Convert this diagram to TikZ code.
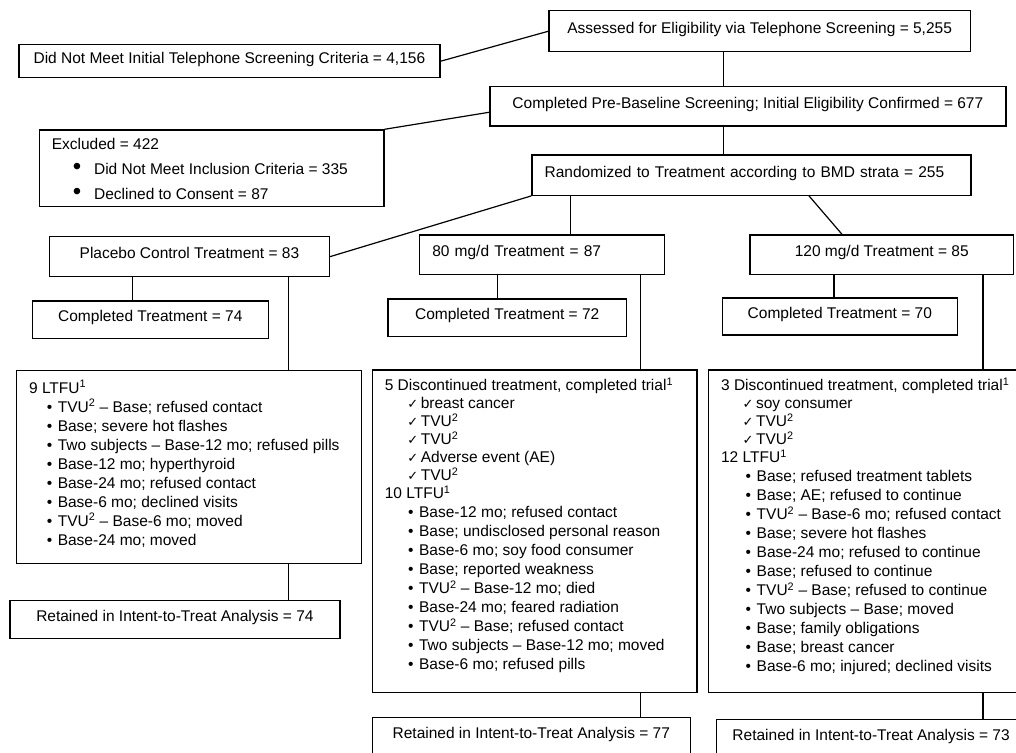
\documentclass[tikz,border=0pt]{standalone}
\usepackage{fontspec}
\setmainfont{Liberation Sans}
\newfontfamily\dejavu{DejaVu Sans}
\tikzset{
  box/.style={draw, line width=1.2pt, inner sep=0pt, anchor=north west, text height=12pt, text depth=8pt},
  listbox/.style={draw, line width=1.2pt, inner sep=0pt, anchor=north west},
  link/.style={line width=1.2pt},
}
% bullet and check mark items: #1=indent
\newcommand{\bitem}[1]{\hspace*{#1pt}\makebox[11pt][l]{•}}
\newcommand{\citem}[1]{\hspace*{#1pt}\makebox[13.5pt][l]{{\dejavu\fontsize{13}{13}\selectfont ✓}}}
\newcommand{\listbox}[7]{%
  % #1=name, #2=x, #3=y, #4=width, #5=height, #6=top gap, #7=lines
  \node[listbox] (#1) at (#2,#3) {\parbox[t][#5pt][t]{#4pt}{\leftskip=12.5pt\vspace*{#6pt}\strut#7}};
}

\begin{document}
\begin{tikzpicture}[x=1pt, y=-1pt, font=\fontsize{15.5}{19}\selectfont]
\useasboundingbox (0,0) rectangle (1016,752);
\clip (0,0) rectangle (1016,752);

% Screening
\node[box, minimum width=421.4pt, minimum height=40.7pt] (assess) at (548.3,10.3)
  {Assessed for Eligibility via Telephone Screening = 5,255};
\node[box, minimum width=421pt, minimum height=32.7pt] (dnm) at (18.3,44.3)
  {Did Not Meet Initial Telephone Screening Criteria = 4,156};
\node[box, minimum width=516pt, minimum height=39.3pt] (pre) at (489.3,86)
  {Completed Pre-Baseline Screening; Initial Eligibility Confirmed = 677};
\listbox{excl}{38.7}{129.3}{344.6}{76.7}{6.2}{%
  Excluded = 422\\[6pt]
  \hspace*{21pt}\makebox[21.3pt][l]{\fontsize{24}{19}\selectfont •}Did Not Meet Inclusion Criteria = 335\\[6pt]
  \hspace*{21pt}\makebox[21.3pt][l]{\fontsize{24}{19}\selectfont •}Declined to Consent = 87}
\node[box, minimum width=439pt, minimum height=40.4pt, text width=413.6pt, align=left] (rand) at (531.3,154.3)
  {Randomized to Treatment according to BMD strata = 255};

% Treatment arms
\node[box, minimum width=280.3pt, minimum height=40pt] (plac) at (48.7,236)
  {Placebo Control Treatment = 83};
\node[box, minimum width=245pt, minimum height=39.7pt, text width=219.6pt, align=left] (mg80) at (419,234.3)
  {80 mg/d Treatment = 87};
\node[box, minimum width=263.7pt, minimum height=39.7pt] (mg120) at (749.3,234.3)
  {120 mg/d Treatment = 85};

% Completed treatment
\node[box, minimum width=236pt, minimum height=37.4pt] (comp74) at (31.7,300.3)
  {Completed Treatment = 74};
\node[box, minimum width=238.7pt, minimum height=37.7pt] (comp72) at (387.3,298.3)
  {Completed Treatment = 72};
\node[box, minimum width=235pt, minimum height=37pt] (comp70) at (721.7,297.3)
  {Completed Treatment = 70};

% Losses per arm
\listbox{ltfu9}{16}{370}{344.7}{192.7}{9.2}{%
  9 LTFU\textsuperscript{1}\\
  \bitem{17.7}TVU\textsuperscript{2} – Base; refused contact\\
  \bitem{17.7}Base; severe hot flashes\\
  \bitem{17.7}Two subjects – Base-12 mo; refused pills\\
  \bitem{17.7}Base-12 mo; hyperthyroid\\
  \bitem{17.7}Base-24 mo; refused contact\\
  \bitem{17.7}Base-6 mo; declined visits\\
  \bitem{17.7}TVU\textsuperscript{2} – Base-6 mo; moved\\
  \bitem{17.7}Base-24 mo; moved}
\listbox{disc5}{371.7}{369.3}{324.6}{322.7}{7.2}{%
  5 Discontinued treatment, completed trial\textsuperscript{1}\\[-1pt]
  \citem{22.5}breast cancer\\[-1pt]
  \citem{22.5}TVU\textsuperscript{2}\\[-1pt]
  \citem{22.5}TVU\textsuperscript{2}\\[-1pt]
  \citem{22.5}Adverse event (AE)\\[-1pt]
  \citem{22.5}TVU\textsuperscript{2}\\[-1pt]
  10 LTFU\textsuperscript{1}\\
  \bitem{23.3}Base-12 mo; refused contact\\
  \bitem{23.3}Base; undisclosed personal reason\\
  \bitem{23.3}Base-6 mo; soy food consumer\\
  \bitem{23.3}Base; reported weakness\\
  \bitem{23.3}TVU\textsuperscript{2} – Base-12 mo; died\\
  \bitem{23.3}Base-24 mo; feared radiation\\
  \bitem{23.3}TVU\textsuperscript{2} – Base; refused contact\\
  \bitem{23.3}Two subjects – Base-12 mo; moved\\
  \bitem{23.3}Base-6 mo; refused pills}
\listbox{disc3}{708}{369.3}{314}{322.7}{7.2}{%
  3 Discontinued treatment, completed trial\textsuperscript{1}\\[-1pt]
  \citem{21.5}soy consumer\\[-1pt]
  \citem{21.5}TVU\textsuperscript{2}\\[-1pt]
  \citem{21.5}TVU\textsuperscript{2}\\[-1pt]
  12 LTFU\textsuperscript{1}\\
  \bitem{24.6}Base; refused treatment tablets\\
  \bitem{24.6}Base; AE; refused to continue\\
  \bitem{24.6}TVU\textsuperscript{2} – Base-6 mo; refused contact\\
  \bitem{24.6}Base; severe hot flashes\\
  \bitem{24.6}Base-24 mo; refused to continue\\
  \bitem{24.6}Base; refused to continue\\
  \bitem{24.6}TVU\textsuperscript{2} – Base; refused to continue\\
  \bitem{24.6}Two subjects – Base; moved\\
  \bitem{24.6}Base; family obligations\\
  \bitem{24.6}Base; breast cancer\\
  \bitem{24.6}Base-6 mo; injured; declined visits}

% Intent-to-treat
\node[box, minimum width=330pt, minimum height=38pt] (ret74) at (9.3,600)
  {Retained in Intent-to-Treat Analysis = 74};
\node[box, minimum width=318pt, minimum height=38pt] (ret77) at (371.7,717)
  {Retained in Intent-to-Treat Analysis = 77};
\node[box, minimum width=309pt, minimum height=38pt] (ret73) at (716,718.7)
  {Retained in Intent-to-Treat Analysis = 73};

% Connector columns
\coordinate (spine) at (723.7,0);
\coordinate (x80) at (570.7,0);
\coordinate (x120a) at (809,0);
\coordinate (x120b) at (842,0);
\coordinate (xp1) at (132.7,0);
\coordinate (xp2) at (288.2,0);
\coordinate (x81) at (497.7,0);
\coordinate (x82) at (640.7,0);
\coordinate (x121) at (834,0);
\coordinate (x122) at (983,0);

% Connectors
\draw[link] (dnm.east) -- (assess.west);
\draw[link] (assess.south -| spine) -- (pre.north -| spine);
\draw[link] ([yshift=-6pt]pre.west) -- (excl.north east);
\draw[link] (pre.south -| spine) -- (rand.north -| spine);
\draw[link] (rand.south west) -- (plac.east);
\draw[link] (rand.south -| x80) -- (mg80.north -| x80);
\draw[link] (rand.south -| x120a) -- (mg120.north -| x120b);
\draw[link] (plac.south -| xp1) -- (comp74.north -| xp1);
\draw[link] (plac.south -| xp2) -- (ltfu9.north -| xp2);
\draw[link] (ltfu9.south -| xp2) -- (ret74.north -| xp2);
\draw[link] (mg80.south -| x81) -- (comp72.north -| x81);
\draw[link] (mg80.south -| x82) -- (disc5.north -| x82);
\draw[link] (disc5.south -| x82) -- (ret77.north -| x82);
\draw[link] (mg120.south -| x121) -- (comp70.north -| x121);
\draw[link] (mg120.south -| x122) -- (disc3.north -| x122);
\draw[link] (disc3.south -| x122) -- (ret73.north -| x122);

\end{tikzpicture}
\end{document}
